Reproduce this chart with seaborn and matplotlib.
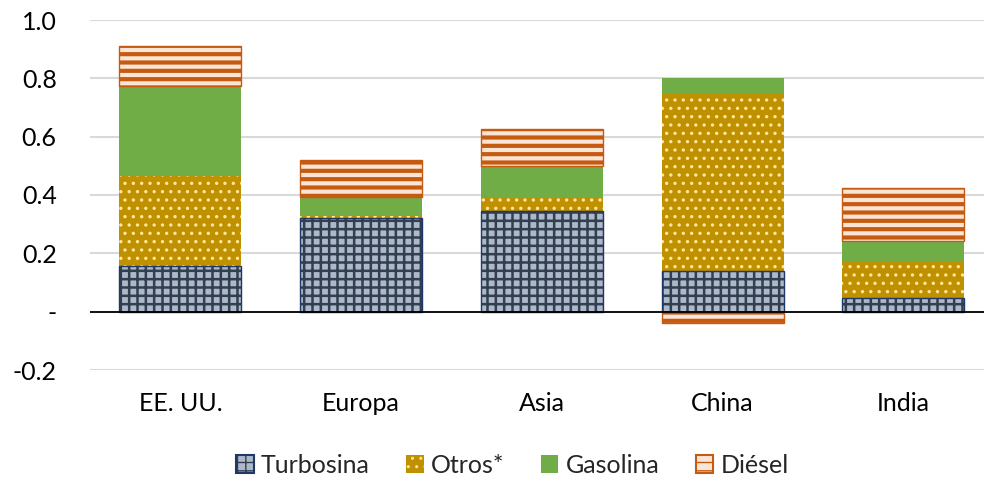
import matplotlib
matplotlib.use("Agg")
import matplotlib.pyplot as plt
from matplotlib.patches import Patch
from matplotlib.legend_handler import HandlerTuple
import numpy as np
import seaborn as sns

# Contribution by product and region
categories = ["EE. UU.", "Europa", "Asia", "China", "India"]
turbosina = [0.155, 0.320, 0.344, 0.138, 0.047]
otros = [0.310, 0.007, 0.048, 0.607, 0.122]
gasolina = [0.309, 0.065, 0.106, 0.057, 0.072]
diesel = [0.138, 0.129, 0.127, -0.038, 0.182]
series_names = ["Turbosina", "Otros*", "Gasolina", "Diésel"]
ytick_values = [-0.2, 0.0, 0.2, 0.4, 0.6, 0.8, 1.0]
ytick_labels = ["-0.2", "-", "0.2", "0.4", "0.6", "0.8", "1.0"]

sns.set_theme(style="white")
plt.rcParams["font.family"] = ["Lato", "DejaVu Sans"]
FS = 18

# fill colour, hatch colour, hatch pattern, hatch width (pt), outline colour
styles = {
    "Turbosina": ("#ADB9CA", "#323F4F", "++", 1.8, "#1F3864"),
    "Otros*": ("#BF9000", "#FFE699", "..", 1.2, None),
    "Gasolina": ("#70AD47", None, None, 0, None),
    "Diésel": ("#FBE5D6", "#C55A11", "--", 3.0, "#C55A11"),
}

fig = plt.figure(figsize=(9.84, 4.8), dpi=100)
ax = fig.add_axes([90 / 984, 1 - 370 / 480, (984 - 90) / 984, 350 / 480])

values = [np.array(turbosina), np.array(otros), np.array(gasolina), np.array(diesel)]
pos_base = np.zeros(len(categories))
neg_base = np.zeros(len(categories))
bar_width = 0.675


def add_layer(vals, bottoms, **props):
    n0 = len(ax.patches)
    sns.barplot(x=categories, y=vals, order=categories, bottom=bottoms,
                width=bar_width, color="#888888", saturation=1,
                errorbar=None, ax=ax, zorder=2)
    for p in ax.patches[n0:]:
        p.set_facecolor(props.get("fc", "none"))
        p.set_edgecolor(props.get("ec", "none"))
        p.set_linewidth(props.get("lw", 0))
        if props.get("hatch"):
            p.set_hatch(props["hatch"])
            if hasattr(p, "set_hatch_linewidth"):
                p.set_hatch_linewidth(props["hlw"])
        p.set_zorder(props.get("z", 2))


handles = []
for name, vals in zip(series_names, values):
    bottoms = np.where(vals >= 0, pos_base, neg_base)
    fc, hc, hatch, hlw, oc = styles[name]
    add_layer(vals, bottoms, fc=fc, z=2)
    parts = [Patch(facecolor=fc, edgecolor="none", linewidth=0)]
    if hatch:
        with plt.rc_context({"hatch.linewidth": hlw}):
            add_layer(vals, bottoms, ec=hc, lw=0, hatch=hatch, hlw=hlw, z=2.1)
            hp = Patch(facecolor="none", edgecolor=hc, linewidth=0, hatch=hatch)
            if hasattr(hp, "set_hatch_linewidth"):
                hp.set_hatch_linewidth(hlw)
        parts.append(hp)
    if oc:
        add_layer(vals, bottoms, ec=oc, lw=1.0, z=2.2)
        parts.append(Patch(facecolor="none", edgecolor=oc, linewidth=1.5))
    handles.append(tuple(parts))
    pos_base = pos_base + np.where(vals >= 0, vals, 0)
    neg_base = neg_base + np.where(vals < 0, vals, 0)

ax.set_xlim(-0.5, -0.5 + 894 / 180.75)
ax.set_ylim(-0.2, 1.0)
ax.set_yticks(ytick_values)
ax.set_yticklabels(ytick_labels)
ax.set_xlabel("")
ax.set_ylabel("")
ax.tick_params(axis="y", length=0, pad=24, labelsize=FS, labelcolor="#000000")
ax.tick_params(axis="x", length=0, pad=16, labelsize=FS, labelcolor="#000000")
ax.yaxis.grid(True, color="#D9D9D9", linewidth=1.5, zorder=0)
ax.set_axisbelow(True)
ax.axhline(0, color="#000000", linewidth=1.3, zorder=3)
for s in ax.spines.values():
    s.set_visible(False)

fig.legend(handles, series_names, loc="center", bbox_to_anchor=(0.521, 0.031),
           ncol=4, frameon=False, fontsize=FS, handlelength=0.7,
           handleheight=0.7, handletextpad=0.3, columnspacing=1.45,
           handler_map={tuple: HandlerTuple(ndivide=1, pad=0)})

fig.savefig("out.png", dpi=100, facecolor="white")
